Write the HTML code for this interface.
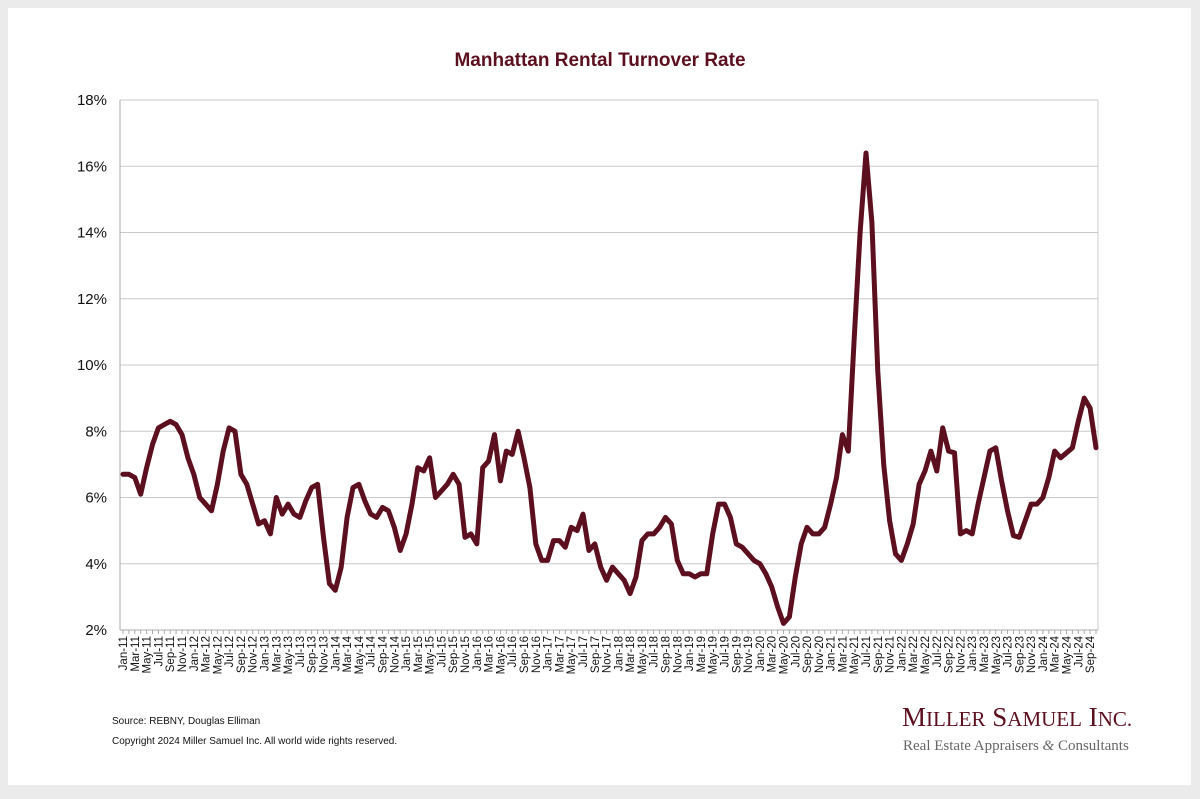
<!DOCTYPE html>
<html><head><meta charset="utf-8"><style>
body{margin:0;background:#ebebeb;width:1200px;height:794px;overflow:hidden}
</style></head><body>
<svg width="1200" height="794" xmlns="http://www.w3.org/2000/svg" font-family="Liberation Sans, Arial, sans-serif">
<rect x="0" y="0" width="1200" height="794" fill="#ebebeb"/>
<rect x="8" y="8" width="1183" height="777" fill="#fff"/>
<text x="600" y="66" text-anchor="middle" font-size="19" font-weight="bold" fill="#5c0f1e">Manhattan Rental Turnover Rate</text>
<g id="grid"></g>
<g id="ylab" font-size="15" fill="#111" text-anchor="end"></g>
<g id="xlab" font-size="11.5" fill="#111"></g>
<path id="line" fill="none" stroke="#5c0f1e" stroke-width="5" stroke-linejoin="round" stroke-linecap="round"/>
<text x="112" y="724" font-size="10" fill="#111">Source: REBNY, Douglas Elliman</text>
<text x="112" y="744" font-size="10" fill="#111">Copyright 2024 Miller Samuel Inc.  All world wide rights reserved.</text>
<text x="902" y="726" font-family="Liberation Serif, serif" font-size="27" fill="#5c0f1e">M<tspan font-size="21">ILLER</tspan> S<tspan font-size="21">AMUEL</tspan> I<tspan font-size="21">NC.</tspan></text>
<text x="903" y="750" font-family="Liberation Serif, serif" font-size="15" fill="#666">Real Estate Appraisers <tspan font-style="italic">&amp;</tspan> Consultants</text>
</svg>
<script>
const ns="http://www.w3.org/2000/svg";
const L=120,R=1098,T=100,B=630;
function Y(v){return B-(v-2)*(B-T)/16}
const g=document.getElementById('grid'),yl=document.getElementById('ylab'),xl=document.getElementById('xlab');
function el(p,t,a){const e=document.createElementNS(ns,t);for(const k in a)e.setAttribute(k,a[k]);p.appendChild(e);return e}
for(let v=2;v<=18;v+=2){const y=Y(v);
 if(v>2)el(g,'line',{x1:L,x2:R,y1:y,y2:y,stroke:'#c8c8c8','stroke-width':1});
 const t=el(yl,'text',{x:107,y:y+5});t.textContent=v+'%';}
el(g,'line',{x1:L,x2:L,y1:T,y2:B,stroke:'#aaa'});
el(g,'line',{x1:R,x2:R,y1:T,y2:B,stroke:'#ccc'});
el(g,'line',{x1:L,x2:R,y1:B,y2:B,stroke:'#aaa'});
const d=[6.7,6.7,6.6,6.1,6.9,7.6,8.1,8.2,8.3,8.2,7.9,7.2,
6.7,6.0,5.8,5.6,6.4,7.4,8.1,8.0,6.7,6.4,5.8,5.2,
5.3,4.9,6.0,5.5,5.8,5.5,5.4,5.9,6.3,6.4,4.8,3.4,
3.2,3.9,5.4,6.3,6.4,5.9,5.5,5.4,5.7,5.6,5.1,4.4,
4.9,5.8,6.9,6.8,7.2,6.0,6.2,6.4,6.7,6.4,4.8,4.9,
4.6,6.9,7.1,7.9,6.5,7.4,7.3,8.0,7.2,6.3,4.6,4.1,
4.1,4.7,4.7,4.5,5.1,5.0,5.5,4.4,4.6,3.9,3.5,3.9,
3.7,3.5,3.1,3.6,4.7,4.9,4.9,5.1,5.4,5.2,4.1,3.7,
3.7,3.6,3.7,3.7,4.9,5.8,5.8,5.4,4.6,4.5,4.3,4.1,
4.0,3.7,3.3,2.7,2.2,2.4,3.6,4.6,5.1,4.9,4.9,5.1,
5.8,6.6,7.9,7.4,10.8,14.0,16.4,14.3,9.8,7.0,5.3,4.3,
4.1,4.6,5.2,6.4,6.8,7.4,6.8,8.1,7.4,7.35,4.9,5.0,
4.9,5.8,6.6,7.4,7.5,6.5,5.6,4.85,4.8,5.3,5.8,5.8,
6.0,6.6,7.4,7.2,7.35,7.5,8.3,9.0,8.7,7.5];
const x0=123,dx=(1096-123)/(d.length-1);
document.getElementById('line').setAttribute('d',d.map((v,i)=>(i?'L':'M')+(x0+i*dx).toFixed(1)+','+Y(v).toFixed(1)).join(''));
const M=['Jan','Feb','Mar','Apr','May','Jun','Jul','Aug','Sep','Oct','Nov','Dec'];
for(let i=0;i<d.length;i++){const x=x0+i*dx;
 el(g,'line',{x1:x,x2:x,y1:B,y2:B+4,stroke:'#aaa'});
 if(i%2)continue;
 const t=el(xl,'text',{transform:`translate(${(x+4).toFixed(1)},636) rotate(-90)`,'text-anchor':'end'});
 t.textContent=M[i%12]+'-'+(11+Math.floor(i/12));}
</script>
</body></html>
